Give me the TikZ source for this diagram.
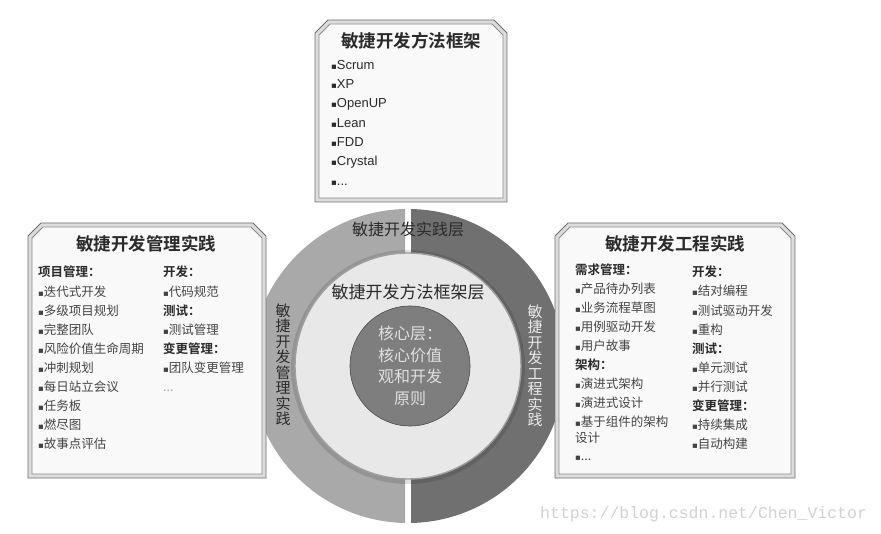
\documentclass[tikz,border=0pt]{standalone}
\usepackage{fontspec}
\setmainfont{Liberation Sans}
\newfontfamily\cjk{Noto Sans CJK SC}[BoldFont={Noto Sans CJK SC Bold}]
\newfontfamily\dejavu{DejaVu Sans}
\newfontfamily\wmfont{Liberation Mono}
\newcommand\blt{{\dejavu\fontsize{8.5}{8.5}\selectfont\char"25AA}}
\definecolor{ringL}{HTML}{A9A9A9}
\definecolor{ringR}{HTML}{707070}
\definecolor{midC}{HTML}{E8E8E8}
\definecolor{coreC}{HTML}{7E7E7E}
\definecolor{txtD}{HTML}{2A2A2A}
\definecolor{txtB}{HTML}{444444}
\definecolor{frameO}{HTML}{6E6E6E}
\definecolor{frameI}{HTML}{8C8C8C}
\definecolor{bandC}{HTML}{DCDCDC}
\definecolor{paperC}{HTML}{F9F9F9}
\definecolor{wmC}{HTML}{D2D2D2}
\newcommand\myframe[4]{%
  \draw[frameO,fill=bandC,line width=0.9pt] (#1,#4) -- (#1,#2+13) -- (#1+13,#2) -- (#3-13,#2) -- (#3,#2+13) -- (#3,#4) -- cycle;
  \draw[frameI,fill=paperC,line width=0.8pt] (#1+4,#4-4) -- (#1+4,#2+15) -- (#1+15,#2+4) -- (#3-15,#2+4) -- (#3-4,#2+15) -- (#3-4,#4-4) -- cycle;
}
\tikzset{
  boxtitle/.style={font=\cjk\bfseries\fontsize{17.5}{17.5}\selectfont, text=txtD, inner sep=0pt},
  litem/.style={font=\fontsize{13}{13}\selectfont, text=txtD, anchor=west, inner sep=0pt, text height=9pt, text depth=3pt},
  citem/.style={font=\cjk\fontsize{12.5}{13}\selectfont, text=txtB, anchor=west, inner sep=0pt, text height=9pt, text depth=3pt},
  chead/.style={font=\cjk\bfseries\fontsize{12.5}{13}\selectfont, text=txtD, anchor=west, inner sep=0pt, text height=9pt, text depth=3pt},
  vtext/.style={font=\cjk\fontsize{15}{15.5}\selectfont, align=center, inner sep=0pt},
  layertext/.style={font=\cjk\fontsize{16}{16}\selectfont, text=txtD, inner sep=0pt},
}
\begin{document}
\begin{tikzpicture}[x=1pt,y=-1pt]
\useasboundingbox (0,0) rectangle (881,534);
\fill[white] (0,0) rectangle (881,534);
% ring
\begin{scope}
  \clip (0,0) rectangle (405,534);
  \fill[ringL] (408,366) circle (157);
\end{scope}
\begin{scope}
  \clip (411,0) rectangle (881,534);
  \fill[ringR] (408,366) circle (157);
\end{scope}
\fill[black,opacity=0.12] (408,367) circle (117);
\draw[fill=midC,draw=gray!75,line width=1.4pt] (408,366) circle (113);
\draw[fill=coreC,draw=gray!60!black,line width=0.6pt] (410,366) circle (60);
% layer texts
\node[layertext] (practice) at (408,229) {敏捷开发实践层};
\node[layertext,font=\cjk\fontsize{17}{17}\selectfont] (framework) at (408,292) {敏捷开发方法框架层};
\node[font=\cjk\fontsize{16}{21.5}\selectfont, text=white!88!black, align=center, inner sep=0pt] (core) at (410,366) {核心层：\\核心价值\\观和开发\\原则};
\node[vtext,text=txtD] (mgmtv) at (283,365) {敏\\捷\\开\\发\\管\\理\\实\\践};
\node[vtext,text=white!92!black] (engv) at (535,366) {敏\\捷\\开\\发\\工\\程\\实\\践};
% boxes
\myframe{315}{20}{507}{202}
\myframe{28}{223}{266}{478}
\myframe{555}{223}{795}{478}
% top box
\node[boxtitle] (ttitle) at (411,41) {敏捷开发方法框架};
\node[litem] (t1) at (331,66.5) {\blt Scrum};
\node[litem] (t2) at (331,85.5) {\blt XP};
\node[litem] (t3) at (331,104.5) {\blt OpenUP};
\node[litem] (t4) at (331,124.5) {\blt Lean};
\node[litem] (t5) at (331,143.5) {\blt FDD};
\node[litem] (t6) at (331,162.5) {\blt Crystal};
\node[litem] (t7) at (331,182.5) {\blt ...};
% left box
\node[boxtitle] (ltitle) at (146,244) {敏捷开发管理实践};
\node[chead] (lh1) at (38,273.5) {项目管理：};
\node[citem] (l1) at (38,293.5) {\blt 迭代式开发};
\node[citem] (l2) at (38,312.5) {\blt 多级项目规划};
\node[citem] (l3) at (38,331.5) {\blt 完整团队};
\node[citem] (l4) at (38,350.5) {\blt 风险价值生命周期};
\node[citem] (l5) at (38,369.5) {\blt 冲刺规划};
\node[citem] (l6) at (38,388.5) {\blt 每日站立会议};
\node[citem] (l7) at (38,407.5) {\blt 任务板};
\node[citem] (l8) at (38,426.5) {\blt 燃尽图};
\node[citem] (l9) at (38,445.5) {\blt 故事点评估};
\node[chead] (lh2) at (163,273.5) {开发：};
\node[citem] (m1) at (163,293.5) {\blt 代码规范};
\node[chead] (lh3) at (163,312.5) {测试：};
\node[citem] (m2) at (163,331.5) {\blt 测试管理};
\node[chead] (lh4) at (163,350.5) {变更管理：};
\node[citem] (m3) at (163,369.5) {\blt 团队变更管理};
\node[citem,text=gray!70] (m4) at (163,388.5) {...};
% right box
\node[boxtitle] (rtitle) at (675,244) {敏捷开发工程实践};
\node[chead] (rh1) at (575,271.5) {需求管理：};
\node[citem] (r1) at (575,290.5) {\blt 产品待办列表};
\node[citem] (r2) at (575,309.5) {\blt 业务流程草图};
\node[citem] (r3) at (575,328.5) {\blt 用例驱动开发};
\node[citem] (r4) at (575,347.5) {\blt 用户故事};
\node[chead] (rh2) at (575,366.5) {架构：};
\node[citem] (r5) at (575,385.5) {\blt 演进式架构};
\node[citem] (r6) at (575,404.5) {\blt 演进式设计};
\node[citem] (r7) at (575,423.5) {\blt 基于组件的架构};
\node[citem] (r7b) at (575,439.5) {设计};
\node[citem] (r8) at (575,457.5) {\blt ...};
\node[chead] (rh3) at (692,273.5) {开发：};
\node[citem] (s1) at (692,292.5) {\blt 结对编程};
\node[citem] (s2) at (692,312.5) {\blt 测试驱动开发};
\node[citem] (s3) at (692,331.5) {\blt 重构};
\node[chead] (rh4) at (692,350.5) {测试：};
\node[citem] (s4) at (692,369.5) {\blt 单元测试};
\node[citem] (s5) at (692,388.5) {\blt 并行测试};
\node[chead] (rh5) at (692,407.5) {变更管理：};
\node[citem] (s6) at (692,426.5) {\blt 持续集成};
\node[citem] (s7) at (692,445.5) {\blt 自动构建};
% watermark
\node[font=\wmfont\fontsize{16.5}{16.5}\selectfont, text=wmC, anchor=west, inner sep=0pt] (wm) at (540,514) {https://blog.csdn.net/Chen\_Victor};
\end{tikzpicture}
\end{document}
